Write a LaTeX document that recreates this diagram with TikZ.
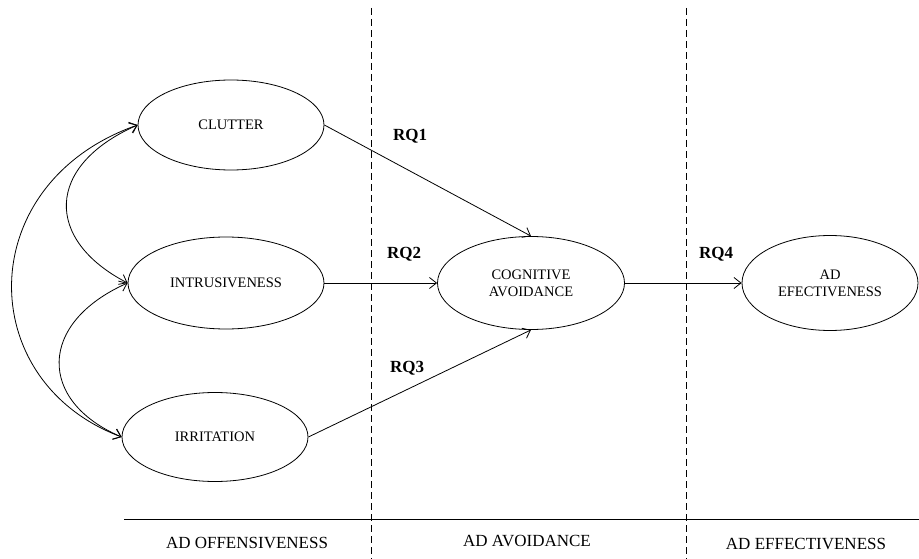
\documentclass[tikz,border=0pt]{standalone}
\usepackage{fontspec}
\setmainfont{Liberation Serif}
\usetikzlibrary{shapes.geometric,arrows.meta}
\begin{document}
\begin{tikzpicture}[x=1pt,y=-1pt,
  line width=0.8pt,
  oval/.style={draw,ellipse,inner sep=0pt,font=\fontsize{14.5}{17}\selectfont,align=center},
  lab/.style={font=\fontsize{17}{20}\selectfont},
  rq/.style={font=\fontsize{17}{20}\selectfont\bfseries},
  tip/.tip={Straight Barb[length=7pt,width=11pt,line width=0.8pt]},
  arr/.style={-tip},
  darr/.style={tip-tip},
  divider/.style={dash pattern=on 7pt off 4pt, line width=0.8pt}]
\useasboundingbox (0,0) rectangle (919,559);
% nodes
\node[oval,minimum width=186pt,minimum height=90pt] (clutter) at (231,125) {CLUTTER};
\node[oval,minimum width=196pt,minimum height=92pt] (intr) at (226,283) {INTRUSIVENESS};
\node[oval,minimum width=186pt,minimum height=89pt] (irr) at (215,437) {IRRITATION};
\node[oval,minimum width=187pt,minimum height=93pt] (cog) at (531,283) {COGNITIVE\\AVOIDANCE};
\node[oval,minimum width=176pt,minimum height=95pt] (eff) at (830,283) {AD\\EFECTIVENESS};
% dividers
\coordinate (d1t) at (371,8);
\coordinate (d1b) at (371,559);
\coordinate (d2t) at (686,8);
\coordinate (d2b) at (686,559);
\coordinate (hl) at (124,519);
\coordinate (hr) at (919,519);
\draw[divider] (d1t) -- (d1b);
\draw[divider] (d2t) -- (d2b);
\draw (hl) -- (hr);
% labels
\node[lab] (l1) at (247,543) {AD OFFENSIVENESS};
\node[lab] (l2) at (527,541) {AD AVOIDANCE};
\node[lab] (l3) at (806,544) {AD EFFECTIVENESS};
\node[rq] (rq1) at (410,136) {RQ1};
\node[rq] (rq2) at (404,254) {RQ2};
\node[rq] (rq3) at (407,368) {RQ3};
\node[rq] (rq4) at (716,254) {RQ4};
% paths
\draw[arr] (clutter.east) -- (cog.north);
\draw[arr] (intr.east) -- (cog.west);
\draw[arr] (irr.east) -- (cog.south);
\draw[arr] (cog.east) -- (eff.west);
% correlations
\draw[darr] (clutter.west) .. controls +(-93,41) and +(-83,-43) .. (intr.west);
\draw[darr] (intr.west) .. controls +(-90,40) and +(-84,-36) .. (irr.west);
\draw[darr] (clutter.west) .. controls +(-165,58) and +(-149,-56) .. (irr.west);
\end{tikzpicture}
\end{document}
